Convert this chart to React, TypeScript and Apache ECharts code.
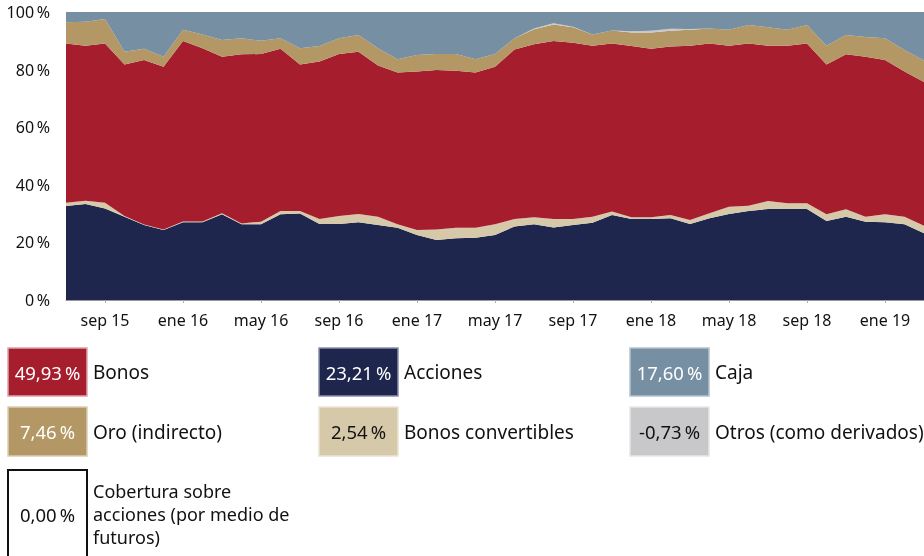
import React, { useEffect, useRef } from "react";
import * as echarts from "echarts";

const categories = [
  "jul 15", "ago 15", "sep 15", "oct 15", "nov 15", "dic 15",
  "ene 16", "feb 16", "mar 16", "abr 16", "may 16", "jun 16", "jul 16", "ago 16", "sep 16", "oct 16", "nov 16", "dic 16",
  "ene 17", "feb 17", "mar 17", "abr 17", "may 17", "jun 17", "jul 17", "ago 17", "sep 17", "oct 17", "nov 17", "dic 17",
  "ene 18", "feb 18", "mar 18", "abr 18", "may 18", "jun 18", "jul 18", "ago 18", "sep 18", "oct 18", "nov 18", "dic 18",
  "ene 19", "feb 19", "mar 19",
];

const acciones = [32.6, 33.3, 31.8, 28.9, 26.0, 24.3, 27.0, 27.0, 29.8, 26.3, 26.3, 29.8, 30.0, 26.4, 26.4, 27.0, 26.0, 25.1, 22.6, 20.8, 21.4, 21.6, 22.6, 25.5, 26.3, 25.2, 26.0, 26.8, 29.5, 28.1, 28.1, 28.4, 26.4, 28.4, 29.9, 30.9, 31.6, 31.6, 31.6, 27.4, 28.9, 27.2, 27.0, 26.3, 23.21];
const convertibles = [1.2, 1.2, 2.0, 0.3, 0.2, 0.2, 0.3, 0.3, 0.3, 0.3, 0.9, 1.1, 0.9, 1.7, 2.8, 2.9, 2.9, 1.2, 1.7, 3.7, 3.7, 3.5, 3.7, 2.6, 2.4, 2.9, 2.1, 2.1, 1.2, 0.6, 0.6, 1.1, 1.4, 1.7, 2.5, 1.8, 2.8, 2.0, 2.0, 2.4, 2.6, 1.7, 2.8, 2.6, 2.54];
const bonos = [55.3, 53.8, 55.3, 52.6, 57.1, 56.5, 62.6, 60.1, 54.4, 58.7, 58.2, 56.3, 50.9, 54.7, 56.2, 56.3, 52.5, 52.7, 55.0, 55.4, 54.5, 53.9, 54.7, 58.9, 60.1, 61.8, 61.2, 59.4, 58.4, 59.5, 58.5, 58.5, 60.5, 59.0, 55.9, 56.4, 53.9, 54.7, 55.5, 52.0, 53.8, 55.6, 53.5, 50.4, 49.93];
const oro = [7.3, 8.3, 8.5, 4.4, 3.9, 3.5, 3.9, 4.8, 5.8, 5.6, 4.6, 3.7, 5.6, 5.4, 5.5, 5.8, 6.0, 4.6, 5.8, 5.5, 5.8, 4.6, 4.4, 3.9, 5.2, 5.8, 5.4, 3.9, 4.5, 4.7, 5.7, 5.5, 5.5, 5.2, 5.5, 6.4, 6.4, 5.5, 6.4, 6.5, 6.7, 6.8, 7.6, 7.5, 7.46];
const otros = [0, 0, 0, 0, 0, 0, 0, 0, 0, 0, 0, 0, 0, 0, 0, 0, 0, 0, 0, 0, 0, 0, 0, 0, 0.3, 0.4, 0.2, 0, 0, 0.4, 0.6, 0.7, 0.3, 0, 0, 0, 0, 0, 0, 0, 0, 0, 0, 0, 0];
const caja = [3.6, 3.4, 2.4, 13.8, 12.8, 15.5, 6.2, 7.8, 9.7, 9.1, 10.0, 9.1, 12.6, 11.8, 9.1, 8.0, 12.6, 16.4, 14.9, 14.6, 14.6, 16.4, 14.6, 9.1, 5.7, 3.9, 5.1, 7.8, 6.4, 6.7, 6.5, 5.8, 5.9, 5.7, 6.2, 4.5, 5.3, 6.2, 4.5, 11.7, 8.0, 8.7, 9.1, 13.2, 16.86];

const yTicks = [0, 20, 40, 60, 80, 100];

const legendLabels = [
  ["Bonos"], ["Acciones"], ["Caja"],
  ["Oro (indirecto)"], ["Bonos convertibles"], ["Otros (como derivados)"],
  ["Cobertura sobre", "acciones (por medio de", "futuros)"],
];
const legendValues = [49.93, 23.21, 17.6, 7.46, 2.54, -0.73, 0.0];

const COLORS = {
  acciones: "#1E264D",
  convertibles: "#D6C9AA",
  bonos: "#A61E2D",
  oro: "#B39764",
  otros: "#C8C8CA",
  caja: "#778FA3",
};

const FONT = '"Noto Sans", "Open Sans", sans-serif';

function fmt(v: number) {
  return v.toFixed(2).replace(".", ",") + "\u2009%";
}

export default function App() {
  const ref = useRef<HTMLDivElement>(null);

  useEffect(() => {
    document.body.style.margin = "0";
    if (!ref.current) return;
    const chart = echarts.init(ref.current, null, { renderer: "svg" });

    const legendBoxes = [
      { fill: COLORS.bonos, stroke: "#dca4aa", txt: "#ffffff", x: 8, y: 348, h: 48 },
      { fill: COLORS.acciones, stroke: "#8a90a8", txt: "#ffffff", x: 319, y: 348, h: 48 },
      { fill: COLORS.caja, stroke: "#b5c2cd", txt: "#ffffff", x: 630, y: 348, h: 48 },
      { fill: COLORS.oro, stroke: "#dccdb3", txt: "#ffffff", x: 8, y: 407, h: 49 },
      { fill: COLORS.convertibles, stroke: "#ece4d3", txt: "#111111", x: 319, y: 407, h: 49 },
      { fill: COLORS.otros, stroke: "#e6e6e7", txt: "#111111", x: 630, y: 407, h: 49 },
      { fill: "#ffffff", stroke: "#111111", txt: "#111111", x: 8, y: 470, h: 92 },
    ];

    const graphics: any[] = [];
    legendBoxes.forEach((b, i) => {
      const isLast = i === 6;
      graphics.push({
        type: "rect",
        shape: { x: b.x, y: b.y, width: 79, height: b.h },
        style: { fill: b.fill, stroke: b.stroke, lineWidth: isLast ? 2 : 1.5 },
      });
      const cy = isLast ? 514 : b.y + b.h / 2;
      graphics.push({
        type: "text",
        style: {
          text: fmt(legendValues[i]),
          x: b.x + 39.5,
          y: cy,
          fill: b.txt,
          font: `18.5px ${FONT}`,
          textAlign: "center",
          textVerticalAlign: "middle",
          align: "center",
          verticalAlign: "middle",
        },
      });
      const lines = legendLabels[i];
      const lh = 22.6;
      const fs = lines.length > 1 ? 18 : 19;
      lines.forEach((ln, k) => {
        graphics.push({
          type: "text",
          style: {
            text: ln,
            x: b.x + 85,
            y: cy + (k - (lines.length - 1) / 2) * lh,
            fill: "#111111",
            font: `${fs}px ${FONT}`,
            textAlign: "left",
            textVerticalAlign: "middle",
            align: "left",
            verticalAlign: "middle",
          },
        });
      });
    });

    const mk = (name: string, data: number[], color: string) => ({
      name,
      type: "line",
      stack: "total",
      data,
      symbol: "none",
      lineStyle: { width: 0 },
      itemStyle: { color },
      areaStyle: { color, opacity: 1 },
    });

    const showIdx = (idx: number) => idx >= 2 && (idx - 2) % 4 === 0;

    chart.setOption({
      animation: false,
      grid: { left: 66, top: 12, width: 867, height: 288 },
      xAxis: {
        type: "category",
        data: categories,
        boundaryGap: false,
        axisLine: { show: true, lineStyle: { color: "#9a9a9a", width: 1 } },
        axisTick: { show: true, interval: (idx: number) => showIdx(idx), length: 3, lineStyle: { color: "#b0b0b0" } },
        axisLabel: {
          interval: (idx: number) => showIdx(idx),
          color: "#111111",
          fontFamily: FONT,
          fontSize: 16,
          margin: 12,
        },
        splitLine: { show: false },
      },
      yAxis: {
        type: "value",
        min: yTicks[0],
        max: yTicks[yTicks.length - 1],
        interval: 20,
        axisLine: { show: false },
        axisTick: { show: false },
        splitLine: { show: false },
        axisLabel: {
          formatter: (v: number) => `${v}\u2009%`,
          color: "#111111",
          fontFamily: FONT,
          fontSize: 16,
          margin: 16,
        },
      },
      series: [
        mk("Acciones", acciones, COLORS.acciones),
        mk("Bonos convertibles", convertibles, COLORS.convertibles),
        mk("Bonos", bonos, COLORS.bonos),
        mk("Oro (indirecto)", oro, COLORS.oro),
        mk("Otros (como derivados)", otros, COLORS.otros),
        mk("Caja", caja, COLORS.caja),
      ],
      graphic: graphics,
    });

    return () => chart.dispose();
  }, []);

  return <div ref={ref} style={{ position: "fixed", left: 0, top: 0, width: 924, height: 556 }} />;
}
